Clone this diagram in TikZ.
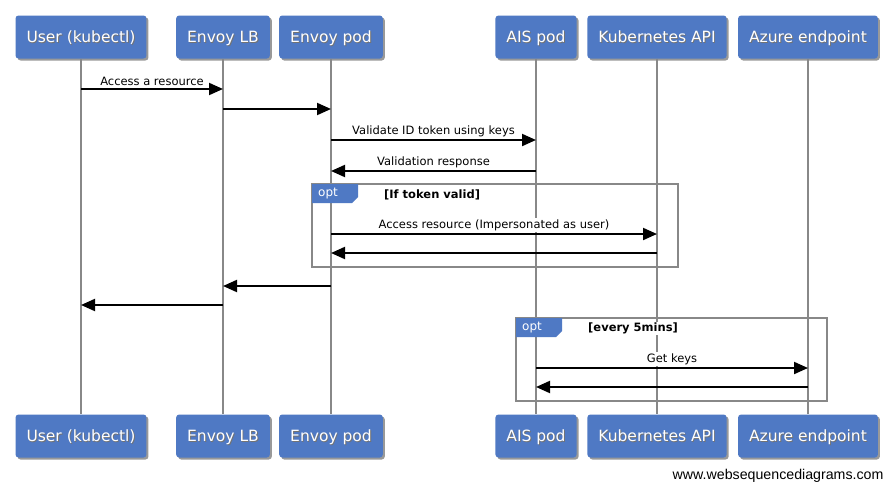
\documentclass[tikz,border=0pt]{standalone}
\usepackage{fontspec}
\setmainfont{DejaVu Sans}
\newfontfamily\footfont{Liberation Sans}
\usetikzlibrary{arrows.meta}
\usetikzlibrary{shadows}

\definecolor{wsdblue}{RGB}{79,121,196}
\definecolor{lifegray}{RGB}{136,136,136}

% white text with a little dark shadow under it
\newcommand{\shadowtext}[1]{\makebox[0pt][l]{\raisebox{-0.9pt}{\hspace{0.9pt}\textcolor{black!55}{#1}}}#1}

\tikzset{
    actor/.style={fill=wsdblue, rounded corners=3pt, text=white,
        font=\fontsize{15.5}{18}\selectfont, minimum height=43pt, inner xsep=11pt,
        text height=11.5pt, text depth=0pt,
        drop shadow={shadow xshift=2pt, shadow yshift=-2pt, opacity=0.4, fill=black}},
    lifeline/.style={draw=lifegray, line width=2pt},
    msg/.style={-{Triangle[length=14pt,width=12pt]}, line width=2pt},
    msglabel/.style={fill=white, inner sep=1pt, above=1.5pt, font=\fontsize{11.5}{13}\selectfont},
    optframe/.style={draw=lifegray, line width=2pt},
    opttag/.style={fill=wsdblue},
    guard/.style={fill=white, anchor=west, inner sep=1pt, font=\bfseries\fontsize{11.5}{14}\selectfont},
}

\begin{document}
\begin{tikzpicture}[x=1pt, y=-1pt]
    \useasboundingbox [fill=white] (0,0) rectangle (894,491);

    % the participants, top row
    \node [actor] (user) at (81,37) {\shadowtext{User (kubectl)}};
    \node [actor] (lb) at (223,37) {\shadowtext{Envoy LB}};
    \node [actor] (pod) at (331,37) {\shadowtext{Envoy pod}};
    \node [actor] (ais) at (536,37) {\shadowtext{AIS pod}};
    \node [actor] (kube) at (657,37) {\shadowtext{Kubernetes API}};
    \node [actor] (azure) at (808,37) {\shadowtext{Azure endpoint}};

    % and the same again at the bottom
    \node [actor] (user_B) at (81,436) {\shadowtext{User (kubectl)}};
    \node [actor] (lb_B) at (223,436) {\shadowtext{Envoy LB}};
    \node [actor] (pod_B) at (331,436) {\shadowtext{Envoy pod}};
    \node [actor] (ais_B) at (536,436) {\shadowtext{AIS pod}};
    \node [actor] (kube_B) at (657,436) {\shadowtext{Kubernetes API}};
    \node [actor] (azure_B) at (808,436) {\shadowtext{Azure endpoint}};

    \draw [lifeline] (user) -- (user_B);
    \draw [lifeline] (lb) -- (lb_B);
    \draw [lifeline] (pod) -- (pod_B);
    \draw [lifeline] (ais) -- (ais_B);
    \draw [lifeline] (kube) -- (kube_B);
    \draw [lifeline] (azure) -- (azure_B);

    % heights of the messages
    \coordinate (M_1) at (0,89);
    \coordinate (M_2) at (0,109);
    \coordinate (M_3) at (0,140);
    \coordinate (M_4) at (0,171);
    \coordinate (M_5) at (0,234);
    \coordinate (M_6) at (0,253);
    \coordinate (M_7) at (0,286);
    \coordinate (M_8) at (0,305);
    \coordinate (M_9) at (0,368);
    \coordinate (M_10) at (0,387);

    % opt boxes
    \draw [optframe] (312,184) rectangle (678,267);
    \fill [opttag] (312,184) -- (358,184) -- (358,197) -- (352,203) -- (312,203) -- cycle;
    \node [text=white, font=\fontsize{12}{14}\selectfont] at (328,193.5) {opt};
    \node [guard] at (383,194.5) {[If token valid]};

    \draw [optframe] (516,318) rectangle (827,401);
    \fill [opttag] (516,318) -- (562,318) -- (562,331) -- (556,337) -- (516,337) -- cycle;
    \node [text=white, font=\fontsize{12}{14}\selectfont] at (532,327.5) {opt};
    \node [guard] at (587,328.5) {[every 5mins]};

    % the messages
    \draw [msg] (user |- M_1) -- (lb |- M_1) node [msglabel, midway] {Access a resource};
    \draw [msg] (lb |- M_2) -- (pod |- M_2);
    \draw [msg] (pod |- M_3) -- (ais |- M_3) node [msglabel, midway] {Validate ID token using keys};
    \draw [msg] (ais |- M_4) -- (pod |- M_4) node [msglabel, midway] {Validation response};
    \draw [msg] (pod |- M_5) -- (kube |- M_5) node [msglabel, midway] {Access resource (Impersonated as user)};
    \draw [msg] (kube |- M_6) -- (pod |- M_6);
    \draw [msg] (pod |- M_7) -- (lb |- M_7);
    \draw [msg] (lb |- M_8) -- (user |- M_8);
    \draw [msg] (ais |- M_9) -- (azure |- M_9) node [msglabel, midway] {Get keys};
    \draw [msg] (azure |- M_10) -- (ais |- M_10);

    \node [anchor=east, font=\footfont\fontsize{14.2}{16}\selectfont] (credit) at (887,476) {www.websequencediagrams.com};
\end{tikzpicture}
\end{document}
